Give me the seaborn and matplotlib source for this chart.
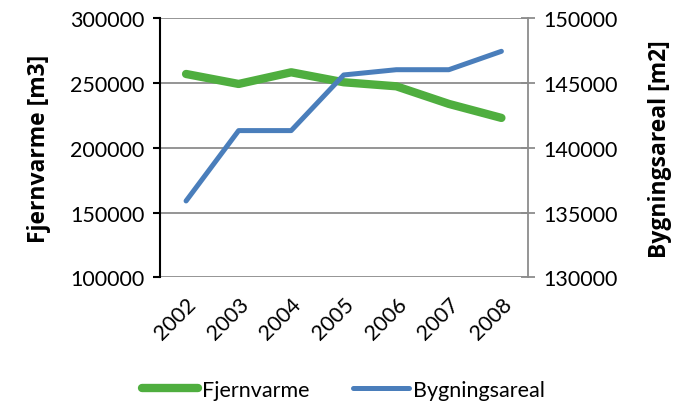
import matplotlib
matplotlib.use("Agg")
import matplotlib.pyplot as plt
import seaborn as sns
import pandas as pd

years = ["2002", "2003", "2004", "2005", "2006", "2007", "2008"]
fjernvarme = [257000, 249300, 258300, 250600, 247500, 233900, 223100]
bygningsareal = [135900, 141330, 141330, 145625, 146030, 146030, 147450]

df = pd.DataFrame({"year": years, "Fjernvarme": fjernvarme, "Bygningsareal": bygningsareal})

sns.set_style("white")
plt.rcParams["font.family"] = ["Lato", "DejaVu Sans"]
plt.rcParams["text.color"] = "black"
plt.rcParams["xtick.color"] = "black"
plt.rcParams["ytick.color"] = "black"
plt.rcParams["axes.labelcolor"] = "black"

green = "#4FAE3F"
blue = "#4A7EBB"
grey = "#8C8C8C"
fs = 15.5

fig = plt.figure(figsize=(6.8, 4.1), dpi=100)
ax = fig.add_axes([0.235, 0.321, 0.541, 0.632])
ax2 = ax.twinx()

sns.lineplot(data=df, x="year", y="Fjernvarme", ax=ax, color=green, lw=6,
             solid_capstyle="round", solid_joinstyle="round", sort=False)
sns.lineplot(data=df, x="year", y="Bygningsareal", ax=ax2, color=blue, lw=3.6,
             solid_capstyle="round", solid_joinstyle="round", sort=False)

ax.set_xlim(-0.5, 6.5)
ax.set_ylim(100000, 300000)
ax.set_yticks([100000, 150000, 200000, 250000, 300000])
ax2.set_ylim(130000, 150000)
ax2.set_yticks([130000, 135000, 140000, 145000, 150000])

ax.yaxis.grid(True, color=grey, lw=1.3)
ax.set_axisbelow(True)
ax.set_xlabel("")
lab_font = dict(family=["Open Sans", "DejaVu Sans"], size=16.5, weight="bold")
ax.set_ylabel("Fjernvarme [m3]", fontdict=lab_font, labelpad=14)
ax2.set_ylabel("Bygningsareal [m2]", fontdict=lab_font, labelpad=22)

for s in ["top", "bottom", "right"]:
    ax.spines[s].set_visible(False)
for s in ["top", "bottom", "left"]:
    ax2.spines[s].set_visible(False)
ax.spines["left"].set_color("black")
ax.spines["left"].set_linewidth(1.5)
ax2.spines["right"].set_color(grey)
ax2.spines["right"].set_linewidth(1.3)

ax.tick_params(axis="y", direction="out", length=5, width=1.5, color="black",
               labelsize=fs, pad=6)
ax.tick_params(axis="x", length=0, labelsize=fs, pad=12)
ax2.tick_params(axis="y", direction="inout", length=10, width=1.3, color=grey,
                labelsize=fs, pad=6)
for lab in ax.get_xticklabels():
    lab.set_rotation(45)
    lab.set_ha("right")
    lab.set_rotation_mode("anchor")

h1 = plt.Line2D([], [], color=green, lw=6, solid_capstyle="round")
h2 = plt.Line2D([], [], color=blue, lw=3.6, solid_capstyle="round")
fig.legend([h1, h2], ["Fjernvarme", "Bygningsareal"], loc="lower center",
           bbox_to_anchor=(0.505, -0.025), ncol=2, frameon=False, fontsize=fs,
           handlelength=2.6, handletextpad=0.2, columnspacing=2.0)

fig.savefig("out.png", dpi=100)
